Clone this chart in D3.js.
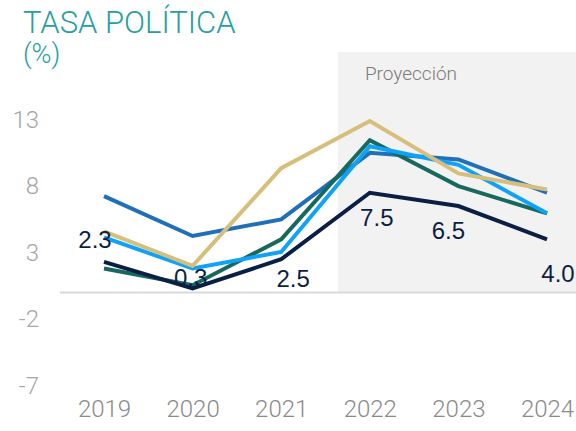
<!DOCTYPE html>
<html>
<head>
<meta charset="utf-8">
<script src="https://cdn.jsdelivr.net/npm/d3@7"></script>
<style>
  body { margin: 0; background: #fff; }
  svg { display: block; }
</style>
</head>
<body>
<div id="chart"></div>
<script>
const years = [2019, 2020, 2021, 2022, 2023, 2024];
const yTicks = [13, 8, 3, -2, -7];
const projectionStart = 2022;

// one array per line
const navy      = [2.3, 0.3, 2.5, 7.5, 6.5, 4.0];
const steelBlue = [7.25, 4.25, 5.5, 10.5, 10.0, 7.5];
const gold      = [4.6, 2.0, 9.35, 12.9, 8.95, 7.75];
const lightBlue = [4.15, 1.8, 3.05, 11.0, 9.6, 5.95];
const teal      = [1.8, 0.55, 4.0, 11.45, 8.0, 5.95];

const navyLabels = ["2.3", "0.3", "2.5", "7.5", "6.5", "4.0"];

const width = 576, height = 431;

const series = [
  { name: "steelBlue", values: steelBlue, color: "#1f70b8" },
  { name: "teal", values: teal, color: "#17695e" },
  { name: "lightBlue", values: lightBlue, color: "#0ea2f8" },
  { name: "gold", values: gold, color: "#d6bf7b" },
  { name: "navy", values: navy, color: "#0b1f45" }
];

const svg = d3.select("#chart")
  .append("svg")
    .attr("width", width)
    .attr("height", height);

const xScale = d3.scalePoint()
  .domain(years)
  .range([104, 547]);

const yScale = d3.scaleLinear()
  .domain([-7, 13])
  .range([385.6, 119.6]);

const step = xScale.step();
const bandX = xScale(projectionStart) - step * 0.36;

// projection band
svg.append("rect")
  .attr("x", bandX)
  .attr("y", 52)
  .attr("width", width - bandX)
  .attr("height", yScale(0) - 52)
  .attr("fill", "#f2f2f2");

svg.append("text")
  .text("Proyección")
  .attr("x", bandX + 27)
  .attr("y", 80)
  .attr("fill", "#7a7a7a")
  .style("font-family", "Roboto, sans-serif")
  .style("font-weight", 300)
  .style("font-size", "19px");

// title
svg.append("text")
  .text("TASA POLÍTICA")
  .attr("x", 23)
  .attr("y", 33)
  .attr("fill", "#26a09c")
  .style("font-family", "Roboto, sans-serif")
  .style("font-weight", 300)
  .style("font-size", "31px");

svg.append("text")
  .text("(%)")
  .attr("x", 23)
  .attr("y", 63)
  .attr("fill", "#26a09c")
  .style("font-family", "Roboto, sans-serif")
  .style("font-weight", 300)
  .style("font-size", "27px");

// y axis labels
const yAxis = svg.append("g")
  .attr("transform", "translate(39,0)")
  .call(d3.axisLeft(yScale).tickValues(yTicks).tickFormat(d => String(d)).tickSize(0).tickPadding(0));
yAxis.select(".domain").remove();
yAxis.selectAll("text")
  .attr("fill", "#a6a6a6")
  .style("font-family", "Roboto, sans-serif")
  .style("font-weight", 300)
  .style("font-size", "24px");

// x axis labels
const xAxis = svg.append("g")
  .attr("transform", "translate(0,400)")
  .call(d3.axisBottom(xScale).tickSize(0).tickPadding(0));
xAxis.select(".domain").remove();
xAxis.selectAll("text")
  .attr("dy", "0.71em")
  .attr("fill", "#8a8a8a")
  .style("font-family", "Roboto, sans-serif")
  .style("font-weight", 300)
  .style("font-size", "24px");

// zero line
svg.append("line")
  .attr("x1", 60)
  .attr("x2", width)
  .attr("y1", yScale(0))
  .attr("y2", yScale(0))
  .attr("stroke", "#d9d9d9")
  .attr("stroke-width", 2);

const lineGen = d3.line()
  .x((d, i) => xScale(years[i]))
  .y(d => yScale(d));

svg.selectAll(".series")
  .data(series)
  .join("path")
    .attr("class", "series")
    .attr("d", d => lineGen(d.values))
    .attr("fill", "none")
    .attr("stroke", d => d.color)
    .attr("stroke-width", 4)
    .attr("stroke-linejoin", "miter");

// navy labels, nudged per point like the source
const labelShift = [[-9, -20], [-2, -9], [12, 21], [7, 27], [-10, 27], [11, 36]];

svg.selectAll(".navy-label")
  .data(navyLabels)
  .join("text")
    .attr("class", "navy-label")
    .text(d => d)
    .attr("x", (d, i) => xScale(years[i]) + labelShift[i][0])
    .attr("y", (d, i) => yScale(navy[i]) + labelShift[i][1])
    .attr("text-anchor", "middle")
    .attr("dominant-baseline", "middle")
    .attr("fill", "#0b1f45")
    .style("font-family", "'Liberation Sans', Arial, sans-serif")
    .style("font-size", "24px");
</script>
</body>
</html>
